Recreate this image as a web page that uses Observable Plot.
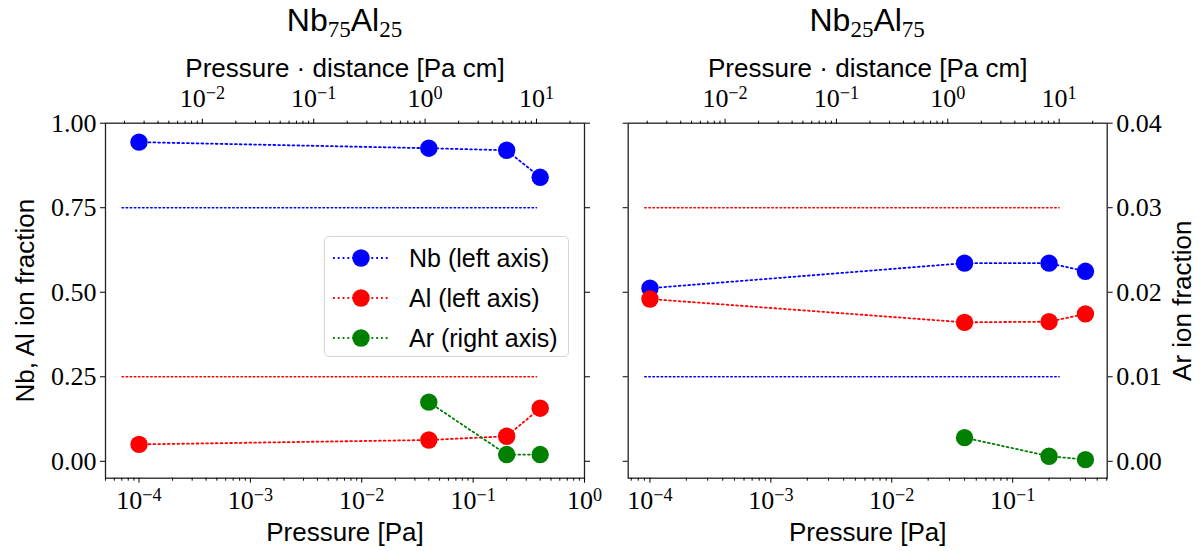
<!DOCTYPE html>
<html><head><meta charset="utf-8">
<script src="https://cdn.jsdelivr.net/npm/d3@7"></script>
<script src="https://cdn.jsdelivr.net/npm/@observablehq/plot@0.6"></script>
<style>
body{margin:0;background:#fff;}
#wrap{position:relative;width:1201px;height:551px;overflow:hidden;}
.panel{position:absolute;top:0;}
.title{position:absolute;font-family:'Liberation Sans',Arial,sans-serif;font-size:32px;line-height:32px;text-align:center;color:#000;white-space:nowrap;}
.title sub{font-family:'Liberation Serif',serif;font-size:23px;vertical-align:-6px;line-height:0;}
.legend{position:absolute;border:1px solid #d5d5d5;border-radius:5px;background:rgba(255,255,255,0.85);box-sizing:border-box;}
.legend .row{position:absolute;left:0;height:30px;display:flex;align-items:center;font-family:'Liberation Sans',Arial,sans-serif;font-size:25px;color:#000;white-space:nowrap;}
</style></head>
<body><div id="wrap"></div>
<script>
// ---------- data ----------
const pressurePa   = [1e-4, 0.04, 0.2, 0.4];      // Nb, Al measurement pressures
const pressureArPa = [0.04, 0.2, 0.4];            // Ar measurement pressures
// Nb75Al25 target
const nb75_Nb = [0.944, 0.926, 0.920, 0.840];
const nb75_Al = [0.050, 0.063, 0.074, 0.157];
const nb75_Ar = [0.0070, 0.0008, 0.0008];
// Nb25Al75 target
const nb25_Nb = [0.512, 0.586, 0.586, 0.562];
const nb25_Al = [0.480, 0.411, 0.413, 0.436];
const nb25_Ar = [0.0028, 0.0006, 0.0002];
// nominal composition reference lines (drawn in Pa·cm coordinates)
const nominalNb75 = {Nb: 0.75, Al: 0.25};
const nominalNb25 = {Nb: 0.25, Al: 0.75};
const refLinePaCm = [0.0019, 10];
// axes
const distanceCm = 27;                  // Pa -> Pa·cm factor of the top axis
const xDomainLeft  = [5e-5, 1];
const xDomainRight = [Math.pow(10, -4.18), Math.pow(10, -0.218)];
const topDomainPaCm = [5e-5 * distanceCm, 1 * distanceCm];
const yDomain = [-0.05, 1.0];           // left axis
const arAxisMax = 0.04;                 // right axis value at y = 1
const leftTickValues  = [0, 0.25, 0.5, 0.75, 1.0];
const bottomTicksLeft  = [1e-4, 1e-3, 1e-2, 1e-1, 1];
const bottomTicksRight = [1e-4, 1e-3, 1e-2, 1e-1];
const topTicksPaCm = [1e-2, 1e-1, 1, 10];
const seriesNames  = ["Nb (left axis)", "Al (left axis)", "Ar (right axis)"];
const seriesColors = ["#0000ff", "#ff0000", "#008000"];
const titles = [["Nb", "75", "Al", "25"], ["Nb", "25", "Al", "75"]];
const xLabel = "Pressure [Pa]";
const topLabel = "Pressure \u00b7 distance [Pa cm]";
const yLabelLeft = "Nb, Al ion fraction";
const yLabelRight = "Ar ion fraction";

// ---------- helpers ----------
const serif = "'Liberation Serif','Times New Roman',serif";
const sans = "'Liberation Sans',Arial,sans-serif";
const lg = Math.log10;
function minorTicks(domain) {
  const out = [];
  for (let k = Math.floor(lg(domain[0])) - 1; k <= Math.ceil(lg(domain[1])); k++)
    for (let m = 2; m <= 9; m++) { const v = m * Math.pow(10, k); if (v >= domain[0] && v <= domain[1]) out.push(v); }
  return out;
}
function topToBottom(v, xd) {
  const t = (lg(v) - lg(topDomainPaCm[0])) / (lg(topDomainPaCm[1]) - lg(topDomainPaCm[0]));
  return Math.pow(10, lg(xd[0]) + t * (lg(xd[1]) - lg(xd[0])));
}
const expLabel = d => "10^" + String(Math.round(lg(d))).replace("-", "\u2212");

function panel({xd, bottomTicks, nb, al, ar, nominal, showLeft, showRight, width, ml, mr}) {
  const frameColor = "#222";
  const rows = pressurePa.map((p, i) => ({p, nb: nb[i], al: al[i]}));
  const arRows = pressureArPa.map((p, i) => ({p, y: ar[i] / arAxisMax}));
  const refX = refLinePaCm.map(v => topToBottom(v, xd));
  const refRows = (y) => refX.map(x => ({x, y}));
  const topMajor = topTicksPaCm.map((v, i) => ({x: topToBottom(v, xd), label: expLabel(v)}));
  const topMinor = minorTicks(topDomainPaCm).map(v => topToBottom(v, xd));
  const dottedRef = {strokeWidth: 1.5, strokeDasharray: "1.5,2.6"};
  const dotted = {strokeWidth: 1.8, strokeDasharray: "1.8,3"};
  const marks = [
    Plot.line(refRows(nominal.Nb), {x: "x", y: "y", stroke: seriesColors[0], ...dottedRef}),
    Plot.line(refRows(nominal.Al), {x: "x", y: "y", stroke: seriesColors[1], ...dottedRef}),
    Plot.line(rows, {x: "p", y: "nb", stroke: seriesColors[0], ...dotted}),
    Plot.dot(rows, {x: "p", y: "nb", r: 8.7, fill: seriesColors[0], stroke: "none"}),
    Plot.line(rows, {x: "p", y: "al", stroke: seriesColors[1], ...dotted}),
    Plot.dot(rows, {x: "p", y: "al", r: 8.7, fill: seriesColors[1], stroke: "none"}),
    Plot.line(arRows, {x: "p", y: "y", stroke: seriesColors[2], ...dotted}),
    Plot.dot(arRows, {x: "p", y: "y", r: 8.7, fill: seriesColors[2], stroke: "none"}),
    Plot.frame({stroke: frameColor, strokeWidth: 1.3}),
    // bottom axis
    Plot.axisX(bottomTicks, {anchor: "bottom", tickSize: 5, tickPadding: 7, tickFormat: expLabel, fontSize: 26, fontFamily: serif, label: null}),
    Plot.axisX(minorTicks(xd), {anchor: "bottom", tickSize: 3, tickFormat: () => "", label: null}),
    // top axis (Pa cm)
    Plot.axisX(topMajor.map(d => d.x), {anchor: "top", tickSize: 5, tickFormat: () => "", label: null}),
    Plot.axisX(topMinor, {anchor: "top", tickSize: 3, tickFormat: () => "", label: null}),
    Plot.text(topMajor, {x: "x", frameAnchor: "top", dy: -25, text: "label", fontSize: 26, fontFamily: serif, lineAnchor: "middle", textAnchor: "middle", fill: "#000"}),
    // y axes
    Plot.axisY(leftTickValues, {anchor: "left", tickSize: 5, tickPadding: 4, tickFormat: showLeft ? (d => d.toFixed(2)) : (() => ""), fontSize: 26, fontFamily: serif, label: null}),
    Plot.axisY(leftTickValues, {anchor: "right", tickSize: 5, tickPadding: 4, tickFormat: showRight ? (d => (d * arAxisMax).toFixed(2)) : (() => ""), fontSize: 26, fontFamily: serif, label: null}),
    // axis titles
    Plot.text([xLabel], {frameAnchor: "bottom", dy: 54, text: d => d, fontSize: 26, fontFamily: sans, lineAnchor: "middle", textAnchor: "middle", fill: "#000"}),
    Plot.text([topLabel], {frameAnchor: "top", dy: -55, text: d => d, fontSize: 26, fontFamily: sans, lineAnchor: "middle", textAnchor: "middle", fill: "#000"})
  ];
  if (showLeft) marks.push(Plot.text([yLabelLeft], {frameAnchor: "left", dx: -80, rotate: -90, text: d => d, fontSize: 26, fontFamily: sans, lineAnchor: "middle", textAnchor: "middle", fill: "#000"}));
  if (showRight) marks.push(Plot.text([yLabelRight], {frameAnchor: "right", dx: 75, rotate: -90, text: d => d, fontSize: 26, fontFamily: sans, lineAnchor: "middle", textAnchor: "middle", fill: "#000"}));
  return Plot.plot({
    width, height: 551,
    marginLeft: ml, marginRight: mr, marginTop: 122.7, marginBottom: 73.3,
    x: {type: "log", domain: xd},
    y: {domain: yDomain},
    style: {background: "transparent", color: "#000", overflow: "visible"},
    marks
  });
}

const wrap = document.getElementById("wrap");
const left = panel({xd: xDomainLeft, bottomTicks: bottomTicksLeft, nb: nb75_Nb, al: nb75_Al, ar: nb75_Ar, nominal: nominalNb75, showLeft: true, showRight: false, width: 600, ml: 105, mr: 16});
const right = panel({xd: xDomainRight, bottomTicks: bottomTicksRight, nb: nb25_Nb, al: nb25_Al, ar: nb25_Ar, nominal: nominalNb25, showLeft: false, showRight: true, width: 601, ml: 27.7, mr: 94.3});
const d1 = document.createElement("div"); d1.className = "panel"; d1.style.left = "0px"; d1.appendChild(left); wrap.appendChild(d1);
const d2 = document.createElement("div"); d2.className = "panel"; d2.style.left = "600px"; d2.appendChild(right); wrap.appendChild(d2);

// serif tick labels
d3.select(wrap).selectAll('g[aria-label="x-axis tick label"], g[aria-label="y-axis tick label"]')
  .attr("font-family", serif).attr("font-size", 26).attr("font-variant", "normal");

// superscripts for 10^n tick labels
d3.select(wrap).selectAll("text").each(function() {
  const targets = this.querySelectorAll("tspan").length ? Array.from(this.querySelectorAll("tspan")) : [this];
  targets.forEach(t => {
    const m = /^10\^(.+)$/.exec(t.textContent);
    if (m) {
      const s = d3.select(t);
      s.text("10");
      s.append("tspan").attr("dy", "-0.42em").attr("font-size", "0.7em").text(m[1]);
    }
  });
});

// titles
const centers = [105 + 479 / 2, 600 + 27.7 + 479 / 2];
titles.forEach((t, i) => {
  const div = d3.select(wrap).append("div").attr("class", "title")
    .style("left", (centers[i] - 150) + "px").style("width", "300px").style("top", "4px");
  div.html(`${t[0]}<sub>${t[1]}</sub>${t[2]}<sub>${t[3]}</sub>`);
});

// legend
const leg = d3.select(wrap).append("div").attr("class", "legend")
  .style("left", "324px").style("top", "236px").style("width", "245px").style("height", "121px");
seriesNames.forEach((name, i) => {
  const row = leg.append("div").attr("class", "row").style("top", (6 + i * 40) + "px");
  const svg = row.append("svg").attr("width", 76).attr("height", 30).style("margin-left", "8px");
  svg.append("line").attr("x1", 0).attr("x2", 56).attr("y1", 15).attr("y2", 15)
    .attr("stroke", seriesColors[i]).attr("stroke-width", 1.8).attr("stroke-dasharray", "1.8,3");
  svg.append("circle").attr("cx", 28).attr("cy", 15).attr("r", 8.7).attr("fill", seriesColors[i]);
  row.append("span").text(name);
});
</script>
</body></html>
